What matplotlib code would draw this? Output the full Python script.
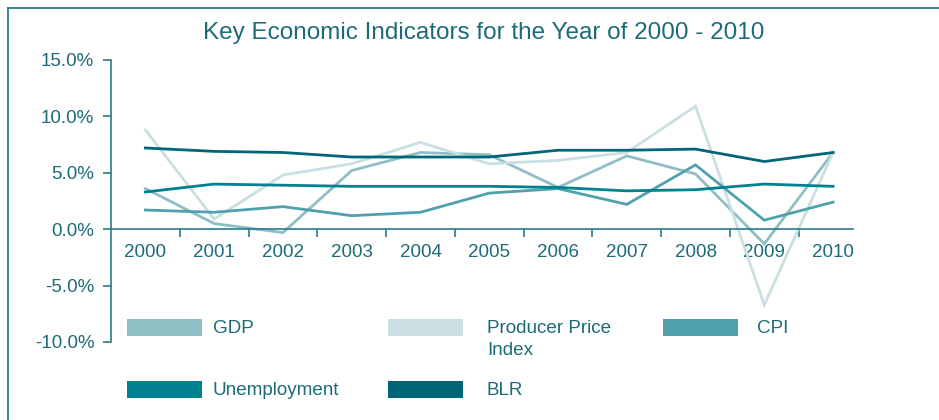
import matplotlib.pyplot as plt
from matplotlib.patches import Rectangle
from matplotlib.lines import Line2D

plt.rcParams['font.family'] = ['Liberation Sans', 'DejaVu Sans']

# Data (percent)
years = ['2000', '2001', '2002', '2003', '2004', '2005',
         '2006', '2007', '2008', '2009', '2010']
gdp = [3.6, 0.5, -0.3, 5.2, 6.8, 6.6, 3.7, 6.5, 4.9, -1.3, 6.8]
ppi = [8.8, 0.9, 4.8, 5.8, 7.7, 5.8, 6.1, 6.8, 10.9, -6.7, 6.8]
cpi = [1.7, 1.5, 2.0, 1.2, 1.5, 3.2, 3.6, 2.2, 5.7, 0.8, 2.4]
unemployment = [3.3, 4.0, 3.9, 3.8, 3.8, 3.8, 3.7, 3.4, 3.5, 4.0, 3.8]
blr = [7.2, 6.9, 6.8, 6.4, 6.4, 6.4, 7.0, 7.0, 7.1, 6.0, 6.8]

series_names = ['GDP', 'Producer Price\nIndex', 'CPI', 'Unemployment', 'BLR']
series_values = [gdp, ppi, cpi, unemployment, blr]
colors = ['#8fbfc5', '#c9dfe2', '#4fa1ad', '#00818f', '#006577']

text_color = '#1d6b79'
axis_color = '#2b7b88'

fig = plt.figure(figsize=(9.39, 4.2), dpi=100)
ax = fig.add_axes([111 / 939, 1 - 342 / 420, 742 / 939, 282 / 420])

x = list(range(len(years)))
for vals, c in zip(series_values, colors):
    ax.plot(x, vals, color=c, lw=2.0, solid_joinstyle='miter', clip_on=False)

ax.set_xlim(-0.5, 10.29)
ax.set_ylim(-10, 15)
ax.set_yticks([-10, -5, 0, 5, 10, 15])
ax.set_yticklabels(['-10.0%', '-5.0%', '0.0%', '5.0%', '10.0%', '15.0%'])
ax.set_xticks(x)
ax.set_xticklabels(years)
ax.set_xticks([i + 0.5 for i in range(10)], minor=True)

for side in ['top', 'right']:
    ax.spines[side].set_visible(False)
ax.spines['bottom'].set_position(('data', 0))
for side in ['left', 'bottom']:
    ax.spines[side].set_color(axis_color)
    ax.spines[side].set_linewidth(1.2)

ax.tick_params(axis='y', direction='out', length=6, width=1.2, color=axis_color,
               labelcolor=text_color, labelsize=13.5, pad=6)
ax.tick_params(axis='x', which='major', length=0, labelcolor=text_color,
               labelsize=13.5, pad=11)
ax.tick_params(axis='x', which='minor', direction='out', length=6, width=1.2,
               color=axis_color)

fig.text(0.515, 1 - 33 / 420, 'Key Economic Indicators for the Year of 2000 - 2010',
         ha='center', va='center', fontsize=17.5, color=text_color)

# Legend drawn by hand so the rows line up like the original
col_x = [127, 388, 663]
text_x = [213, 487, 757]
row_y = [327, 389]
slots = [(0, 0), (1, 0), (2, 0), (0, 1), (1, 1)]
for (col, row), name, c in zip(slots, series_names, colors):
    px, py = col_x[col], row_y[row]
    ax.add_patch(Rectangle(((px - 111) / 742, (342 - py - 8.5) / 282),
                           75 / 742, 17 / 282, transform=ax.transAxes,
                           facecolor=c, edgecolor='none', clip_on=False))
    ax.text((text_x[col] - 111) / 742, (342 - py + 7) / 282, name,
            transform=ax.transAxes, ha='left', va='top',
            fontsize=13.6, color=text_color, linespacing=1.35)

# Frame around the figure (top and left edges visible)
fig.add_artist(Line2D([7.5 / 939, 7.5 / 939], [0, 1 - 7.5 / 420],
                      transform=fig.transFigure, color=axis_color, lw=1.3))
fig.add_artist(Line2D([7.5 / 939, 1], [1 - 7.5 / 420, 1 - 7.5 / 420],
                      transform=fig.transFigure, color=axis_color, lw=1.3))

fig.savefig('out.png', dpi=100)
